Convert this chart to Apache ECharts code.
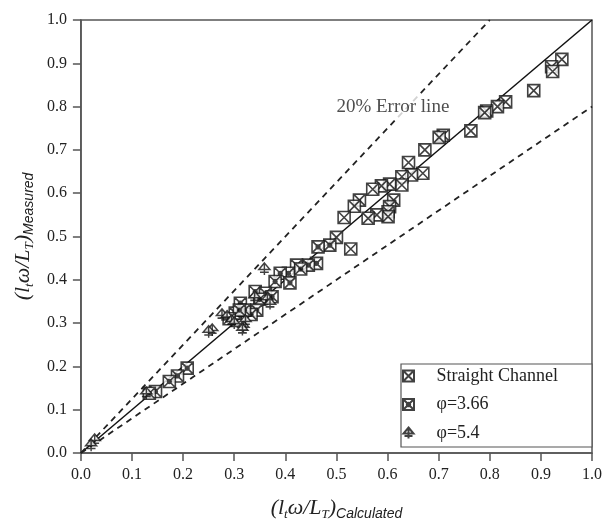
<!DOCTYPE html>
<html>
<head>
<meta charset="utf-8">
<script src="https://cdn.jsdelivr.net/npm/echarts@6/dist/echarts.min.js"></script>
<style>html,body{margin:0;padding:0;background:#fff}#c{width:606px;height:529px}</style>
</head>
<body>
<div id="c"></div>
<script>
// ---- data ----
const xTicks = [0,0.1,0.2,0.3,0.4,0.5,0.6,0.7,0.8,0.9,1.0];
const straightChannel = [
  [0.941,0.909],[0.921,0.892],[0.923,0.881],[0.886,0.837],[0.831,0.811],[0.815,0.800],
  [0.794,0.790],[0.790,0.786],[0.763,0.744],[0.709,0.734],[0.701,0.729],[0.673,0.700],
  [0.641,0.671],[0.669,0.646],[0.647,0.642],[0.628,0.638],[0.628,0.619],[0.612,0.584],
  [0.604,0.569],[0.601,0.557],[0.601,0.546],[0.604,0.621],[0.588,0.617],[0.571,0.609],
  [0.545,0.584],[0.535,0.570],[0.579,0.550],[0.562,0.542],[0.515,0.544],[0.528,0.471],
  [0.500,0.498]
];
const phi366 = [
  [0.487,0.480],[0.464,0.476],[0.461,0.438],[0.445,0.434],[0.422,0.434],[0.430,0.425],
  [0.406,0.415],[0.390,0.415],[0.380,0.396],[0.409,0.393],[0.341,0.373],[0.361,0.369],
  [0.374,0.361],[0.350,0.355],[0.344,0.330],[0.333,0.320],[0.312,0.346],[0.302,0.323],
  [0.320,0.330],[0.310,0.330],[0.290,0.310],[0.208,0.196],[0.189,0.178],[0.173,0.165],
  [0.146,0.142],[0.134,0.138]
];
const phi54 = [
  [0.359,0.425],[0.257,0.284],[0.250,0.280],[0.276,0.319],[0.286,0.315],[0.295,0.305],
  [0.300,0.300],[0.318,0.292],[0.322,0.305],[0.316,0.285],[0.365,0.355],[0.370,0.345],
  [0.340,0.360],[0.128,0.138],[0.027,0.030],[0.020,0.018]
];
const perfectLine = [[0,0],[1,1]];
const upperErrorLine = [[0,0],[0.8,1.0]];
const lowerErrorLine = [[0,0],[1.0,0.8]];
const annotation = [[0.496,0.80,'20% Error line']];
const seriesNames = ['Straight Channel','φ=3.66','φ=5.4'];

// ---- chart ----
const sqX = 'path://M0,0L10,0L10,10L0,10Z M0,0L10,10 M10,0L0,10';
const sqXo = 'path://M0,0L10,0L10,10L0,10Z M0,0L10,10 M10,0L0,10 M3.5,5A1.5,1.5 0 1 0 6.5,5A1.5,1.5 0 1 0 3.5,5Z';
const tri = 'path://M5,0L10,6L0,6Z M5,0L5,11 M1,8.5L9,8.5';
const serif = '"Liberation Serif", "Times New Roman", serif';
const tick = { show:true, inside:false, length:8, lineStyle:{color:'#555', width:1.5} };
const axLine = { show:true, onZero:false, lineStyle:{color:'#555', width:1.5} };
const lbl = { fontFamily:serif, fontSize:16, color:'#222', formatter:v=>v.toFixed(1) };
const rich = {
  m:{fontFamily:serif, fontStyle:'italic', fontSize:22, color:'#222', lineHeight:26, verticalAlign:'middle'},
  s:{fontFamily:serif, fontStyle:'italic', fontSize:13, color:'#222', lineHeight:26, verticalAlign:'bottom', padding:[14,0,0,0]},
  c:{fontFamily:'"Liberation Sans", Arial, sans-serif', fontStyle:'italic', fontSize:14, color:'#222', lineHeight:26, verticalAlign:'bottom', padding:[14,0,0,0]}
};
const chart = echarts.init(document.getElementById('c'), null, {renderer:'canvas'});
chart.setOption({
  animation:false,
  backgroundColor:'#fff',
  grid:{left:78, right:14, top:20, bottom:76, show:true, borderColor:'#555', borderWidth:1.5, backgroundColor:'transparent'},
  xAxis:{type:'value', min:0, max:1, interval:0.1, splitLine:{show:false},
    axisLine:axLine, axisTick:tick, axisLabel:Object.assign({margin:14}, lbl),
    name:'{m|(l}{s|t}{m|ω/L}{s|T}{m|)}{c|Calculated}', nameLocation:'middle', nameGap:42,
    nameTextStyle:{rich:rich}},
  yAxis:{type:'value', min:0, max:1, interval:0.1, splitLine:{show:false},
    axisLine:axLine, axisTick:tick, axisLabel:Object.assign({margin:14}, lbl),
    name:'{m|(l}{s|t}{m|ω/L}{s|T}{m|)}{c|Measured}', nameLocation:'middle', nameGap:41,
    nameTextStyle:{rich:rich}},
  legend:{
    orient:'vertical', left:401, top:364, padding:[2,34,4,1], itemGap:8.5,
    itemWidth:46, itemHeight:11, borderColor:'#555', borderWidth:1.2,
    backgroundColor:'#fff',
    textStyle:{fontFamily:serif, fontSize:18, color:'#222', lineHeight:20},
    data:[
      {name:seriesNames[0], icon:sqX},
      {name:seriesNames[1], icon:sqXo},
      {name:seriesNames[2], icon:tri}
    ]
  },
  series:[
    {type:'line', data:perfectLine, symbol:'none', lineStyle:{color:'#111', width:1.5}, silent:true, z:1},
    {type:'line', data:upperErrorLine, symbol:'none', lineStyle:{color:'#222', width:1.8, type:[6,5]}, silent:true, z:1},
    {type:'line', data:lowerErrorLine, symbol:'none', lineStyle:{color:'#222', width:1.8, type:[6,5]}, silent:true, z:1},
    {name:seriesNames[0], type:'scatter', data:straightChannel, symbol:sqX, symbolSize:12,
      itemStyle:{color:'#fff', borderColor:'#111', borderWidth:1.6}, z:3},
    {name:seriesNames[1], type:'scatter', data:phi366, symbol:sqXo, symbolSize:12,
      itemStyle:{color:'#fff', borderColor:'#111', borderWidth:1.6}, z:3},
    {name:seriesNames[2], type:'scatter', data:phi54, symbol:tri, symbolSize:[11,12],
      itemStyle:{color:'#fff', borderColor:'#111', borderWidth:1.5}, z:3},
    {type:'scatter', data:annotation.map(a=>[a[0],a[1]]), symbolSize:0, silent:true, z:2,
      label:{show:true, position:'right', distance:0, formatter:p=>annotation[p.dataIndex][2],
        fontFamily:serif, fontSize:19, color:'#222', backgroundColor:'#fff', padding:[2,2,2,2]}}
  ]
});
</script>
</body>
</html>
